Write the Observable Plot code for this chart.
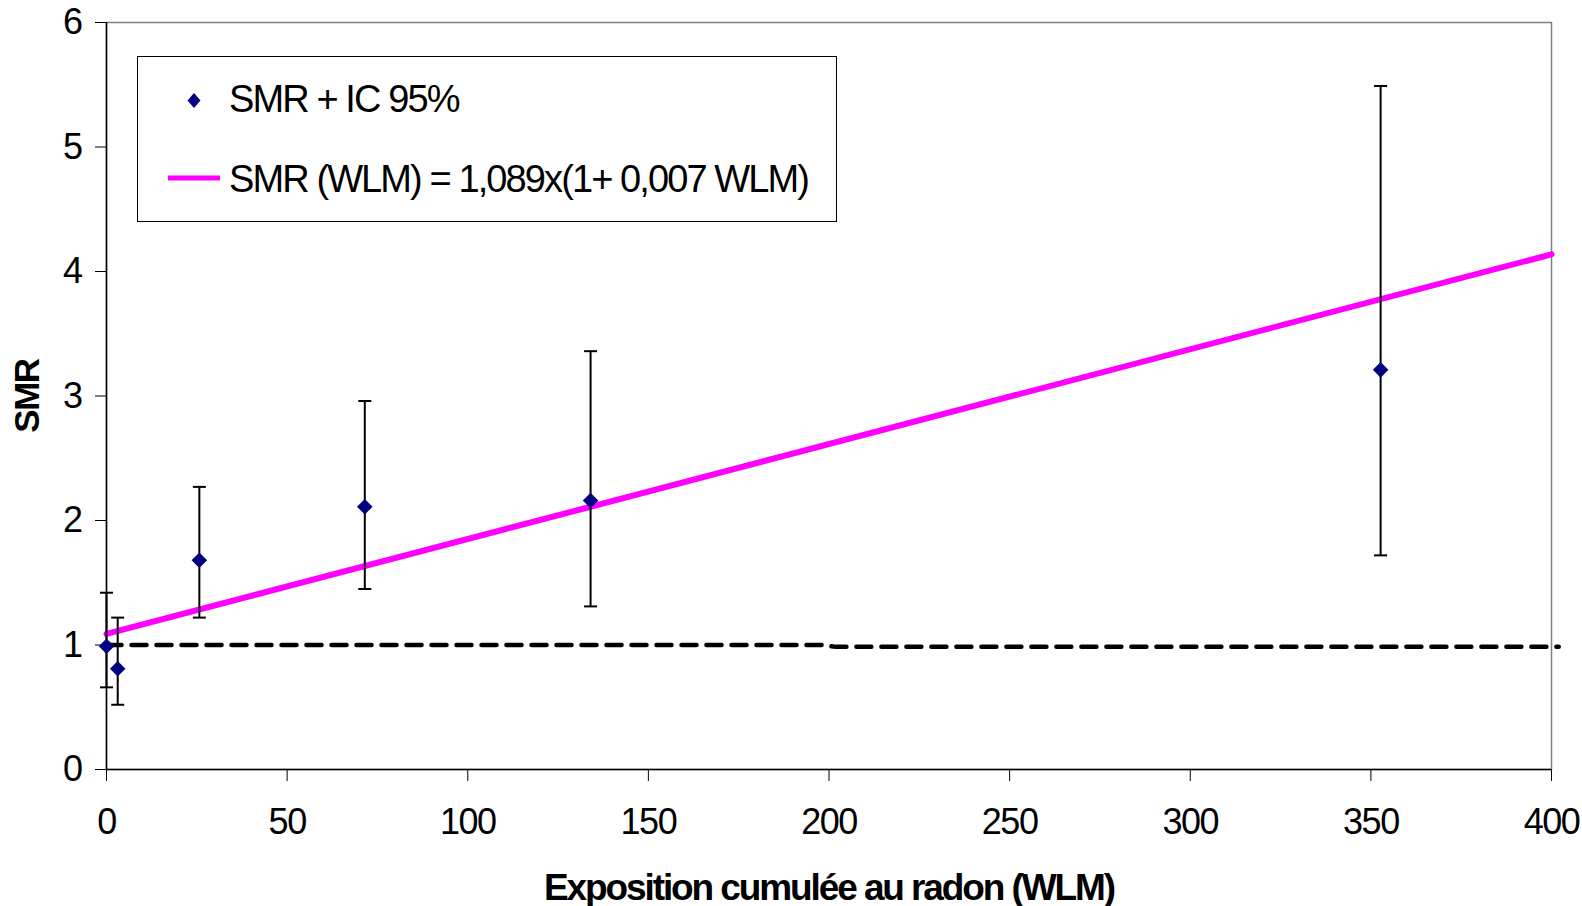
<!DOCTYPE html>
<html>
<head>
<meta charset="utf-8">
<script src="https://cdn.jsdelivr.net/npm/d3@7"></script>
<script src="https://cdn.jsdelivr.net/npm/@observablehq/plot@0.6"></script>
<style>
  html, body { margin: 0; padding: 0; background: #fff; }
  #wrap { position: relative; width: 1582px; height: 906px; font-family: "Liberation Sans", Arial, sans-serif; }
  #wrap svg text { font-family: "Liberation Sans", Arial, sans-serif; }
  .tick-lbl text { letter-spacing: -1.5px; }
  .xtitle text { letter-spacing: -2.1px; }
  .ytitle text { letter-spacing: -1.5px; }
  #legend { position: absolute; left: 137px; top: 56px; }
</style>
</head>
<body>
<div id="wrap"></div>
<script>
// Data
const wlm   = [0, 3.1, 25.7, 71.5, 134.0, 352.7];
const smr   = [0.99, 0.81, 1.68, 2.11, 2.16, 3.21];
const ciLow = [0.66, 0.52, 1.22, 1.45, 1.31, 1.72];
const ciHigh= [1.42, 1.22, 2.27, 2.96, 3.36, 5.49];

const fitX = [0, 400];
const fitY = [1.089, 4.138];

const refX = [0, 198, 202, 402];
const refY = [1.0, 1.0, 0.985, 0.985];

const xTicks = [0, 50, 100, 150, 200, 250, 300, 350, 400];
const yTicks = [0, 1, 2, 3, 4, 5, 6];

const xTitle = "Exposition cumulée au radon (WLM)";
const yTitle = "SMR";
const legendLabels = ["SMR + IC 95%", "SMR (WLM) = 1,089x(1+ 0,007 WLM)"];

const points = wlm.map((x, i) => ({x, smr: smr[i], lo: ciLow[i], hi: ciHigh[i]}));
const fit = fitX.map((x, i) => ({x, y: fitY[i]}));
const ref = refX.map((x, i) => ({x, y: refY[i]}));

const capSymbol = {
  draw(ctx, size) { const w = 6.5; ctx.moveTo(-w, 0); ctx.lineTo(w, 0); }
};

const chart = Plot.plot({
  width: 1582,
  height: 906,
  marginLeft: 106,
  marginRight: 31,
  marginTop: 22,
  marginBottom: 137,
  x: {domain: [0, 400]},
  y: {domain: [0, 6]},
  style: {fontFamily: "Liberation Sans, Arial, sans-serif", background: "#fff", color: "#000", overflow: "visible"},
  marks: [
    Plot.frame({stroke: "#808080", strokeWidth: 1.5}),
    Plot.axisX({ticks: xTicks, tickSize: 12, tickPadding: 27, fontSize: 36, label: null, className: "tick-lbl", tickFormat: d => String(d)}),
    Plot.axisY({ticks: yTicks, tickSize: 11, tickPadding: 14, fontSize: 36, label: null, className: "tick-lbl", tickFormat: d => String(d)}),
    Plot.ruleX([0], {stroke: "#000", strokeWidth: 1.5}),
    Plot.ruleY([0], {stroke: "#000", strokeWidth: 1.5}),
    Plot.line(ref, {x: "x", y: "y", stroke: "#000", strokeWidth: 4.5, strokeDasharray: "15,10", clip: false}),
    Plot.line(fit, {x: "x", y: "y", stroke: "#FF00FF", strokeWidth: 6}),
    Plot.ruleX(points, {x: "x", y1: "lo", y2: "hi", stroke: "#000", strokeWidth: 2}),
    Plot.dot(points, {x: "x", y: "hi", symbol: capSymbol, stroke: "#000", strokeWidth: 2, r: 5}),
    Plot.dot(points, {x: "x", y: "lo", symbol: capSymbol, stroke: "#000", strokeWidth: 2, r: 5}),
    Plot.dot(points, {x: "x", y: "smr", symbol: "diamond2", fill: "#000080", stroke: "none", r: 7}),
    Plot.text([yTitle], {frameAnchor: "left", dx: -79, rotate: -90, textAnchor: "middle", fontSize: 35, fontWeight: "bold", fill: "#000", className: "ytitle"}),
    Plot.text([xTitle], {frameAnchor: "bottom", textAnchor: "middle", lineAnchor: "middle", dy: 119, fontSize: 37, fontWeight: "bold", fill: "#000", className: "xtitle"})
  ]
});
document.getElementById("wrap").appendChild(chart);

// Legend
const lg = d3.create("svg").attr("id", "legend").attr("width", 700).attr("height", 166);
lg.append("rect").attr("x", 0.5).attr("y", 0.5).attr("width", 699).attr("height", 165).attr("fill", "#fff").attr("stroke", "#000").attr("stroke-width", 1);
lg.append("path").attr("d", "M57,37 L63.5,44.5 L57,52 L50.5,44.5 Z").attr("fill", "#000080");
lg.append("text").attr("x", 92).attr("y", 56).attr("font-size", 38).attr("letter-spacing", "-1.9px").attr("fill", "#000").text(legendLabels[0]);
lg.append("line").attr("x1", 31).attr("x2", 83).attr("y1", 122).attr("y2", 122).attr("stroke", "#FF00FF").attr("stroke-width", 5);
lg.append("text").attr("x", 92).attr("y", 135.5).attr("font-size", 38).attr("letter-spacing", "-1.9px").attr("fill", "#000").text(legendLabels[1]);
document.getElementById("wrap").appendChild(lg.node());
</script>
</body>
</html>
